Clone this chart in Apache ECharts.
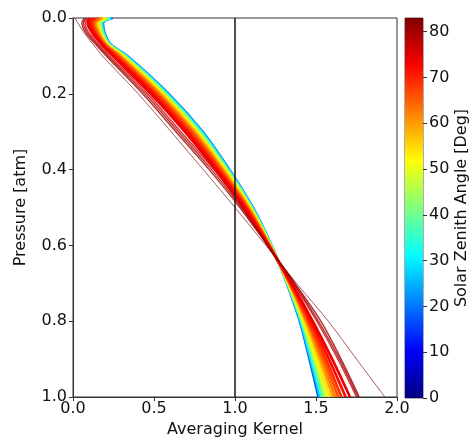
<!DOCTYPE html>
<html>
<head>
<meta charset="utf-8">
<script src="https://cdn.jsdelivr.net/npm/echarts@6/dist/echarts.min.js"></script>
<style>html,body{margin:0;padding:0;background:#fff}#c{width:475px;height:443px}</style>
</head>
<body>
<div id="c"></div>
<script>
// Pressure levels [atm]
const pressure = [0, 0.013, 0.04, 0.07, 0.1, 0.2, 0.3, 0.4, 0.5, 0.6, 0.7, 0.8, 0.9, 1.0];
// Solar zenith angles of each kernel [deg]
const sza = [18, 28, 36, 43, 49, 54, 59, 63, 66, 69, 72, 74, 77, 79, 81, 83];
// Averaging kernel values (one per pressure level)
const k18 = [0.245, 0.185, 0.195, 0.232, 0.335, 0.590, 0.800, 0.965, 1.110, 1.225, 1.320, 1.400, 1.460, 1.515];
const k28 = [0.238, 0.180, 0.191, 0.229, 0.331, 0.585, 0.795, 0.961, 1.107, 1.224, 1.322, 1.404, 1.467, 1.525];
const k36 = [0.229, 0.175, 0.187, 0.225, 0.325, 0.578, 0.788, 0.956, 1.104, 1.223, 1.323, 1.409, 1.475, 1.536];
const k43 = [0.219, 0.168, 0.182, 0.221, 0.319, 0.570, 0.780, 0.950, 1.100, 1.221, 1.325, 1.414, 1.485, 1.550];
const k49 = [0.207, 0.160, 0.176, 0.216, 0.312, 0.561, 0.771, 0.943, 1.096, 1.220, 1.328, 1.421, 1.496, 1.566];
const k54 = [0.194, 0.152, 0.169, 0.211, 0.304, 0.552, 0.762, 0.935, 1.091, 1.218, 1.331, 1.428, 1.509, 1.583];
const k59 = [0.180, 0.142, 0.161, 0.206, 0.295, 0.541, 0.751, 0.927, 1.085, 1.216, 1.334, 1.436, 1.523, 1.603];
const k63 = [0.167, 0.134, 0.155, 0.201, 0.286, 0.531, 0.741, 0.919, 1.080, 1.214, 1.336, 1.443, 1.536, 1.620];
const k66 = [0.154, 0.125, 0.148, 0.196, 0.278, 0.521, 0.731, 0.911, 1.075, 1.212, 1.339, 1.450, 1.548, 1.638];
const k69 = [0.139, 0.116, 0.140, 0.191, 0.269, 0.510, 0.720, 0.903, 1.070, 1.210, 1.342, 1.458, 1.562, 1.657];
const k72 = [0.120, 0.103, 0.131, 0.185, 0.258, 0.495, 0.705, 0.892, 1.063, 1.208, 1.346, 1.469, 1.580, 1.683];
const k74 = [0.100, 0.090, 0.120, 0.178, 0.245, 0.480, 0.690, 0.880, 1.055, 1.205, 1.350, 1.480, 1.600, 1.710];
const k77 = [0.090, 0.075, 0.100, 0.160, 0.226, 0.460, 0.665, 0.870, 1.045, 1.205, 1.360, 1.505, 1.635, 1.751];
const k79 = [0.080, 0.065, 0.090, 0.150, 0.215, 0.445, 0.650, 0.855, 1.040, 1.205, 1.365, 1.515, 1.645, 1.759];
const k81 = [0.070, 0.055, 0.080, 0.140, 0.205, 0.430, 0.635, 0.840, 1.030, 1.200, 1.370, 1.530, 1.655, 1.767];
const k83 = [0.012, 0.030, 0.070, 0.125, 0.181, 0.403, 0.605, 0.804, 1.000, 1.190, 1.380, 1.576, 1.750, 1.925];
const kernels = [k18, k28, k36, k43, k49, k54, k59, k63, k66, k69, k72, k74, k77, k79, k81, k83];
// Reference line and axis ticks
const refKernel = 1.0;
const xTicks = [0.0, 0.5, 1.0, 1.5, 2.0];
const yTicks = [0.0, 0.2, 0.4, 0.6, 0.8, 1.0];
const cbTicks = [0, 10, 20, 30, 40, 50, 60, 70, 80];
const szaMin = 0, szaMax = 83;

function jet(v) {
  const t = Math.max(0, Math.min(1, v));
  const cl = a => Math.max(0, Math.min(1, a));
  const r = cl(1.5 - Math.abs(4 * t - 3));
  const g = cl(1.5 - Math.abs(4 * t - 2));
  const b = cl(1.5 - Math.abs(4 * t - 1));
  return 'rgb(' + Math.round(r * 255) + ',' + Math.round(g * 255) + ',' + Math.round(b * 255) + ')';
}

const FONT = 'DejaVu Sans';
const series = kernels.map((k, i) => {
  const a = sza[i];
  const w = a >= 83 ? 1 : (a >= 77 ? 1.4 : 2.6);
  const op = a >= 83 ? 0.65 : (a >= 77 ? 0.8 : 1);
  return {
    type: 'line', xAxisIndex: 0, yAxisIndex: 0,
    data: k.map((x, j) => [x, pressure[j]]),
    showSymbol: false, symbol: 'none', silent: true,
    smooth: 0.3,
    lineStyle: { color: jet((a - szaMin) / (szaMax - szaMin)), width: w, opacity: op },
    z: 2 + i
  };
});
series.push({
  type: 'line', xAxisIndex: 0, yAxisIndex: 0,
  data: [[refKernel, 0], [refKernel, 1]],
  showSymbol: false, symbol: 'none', silent: true,
  lineStyle: { color: '#222', width: 1.6 }, z: 30
});
series.push({
  type: 'bar', xAxisIndex: 1, yAxisIndex: 1,
  data: [szaMax], barWidth: '100%', silent: true,
  itemStyle: {
    color: new echarts.graphic.LinearGradient(0, 1, 0, 0, [
      { offset: 0, color: '#000080' },
      { offset: 0.125, color: '#0000ff' },
      { offset: 0.375, color: '#00ffff' },
      { offset: 0.625, color: '#ffff00' },
      { offset: 0.875, color: '#ff0000' },
      { offset: 1, color: '#800000' }
    ])
  }
});

const chart = echarts.init(document.getElementById('c'), null, { renderer: 'canvas' });
chart.setOption({
  animation: false,
  backgroundColor: '#fff',
  textStyle: { fontFamily: FONT },
  grid: [
    { left: 73, right: 78, top: 18, bottom: 45, show: true, borderColor: '#333', borderWidth: 1, backgroundColor: 'transparent' },
    { left: 405, width: 18, top: 18, bottom: 45, show: true, borderColor: '#333', borderWidth: 0.8 }
  ],
  xAxis: [
    {
      type: 'value', gridIndex: 0, min: xTicks[0], max: xTicks[xTicks.length - 1], interval: 0.5,
      name: 'Averaging Kernel', nameLocation: 'middle', nameGap: 25,
      nameTextStyle: { fontSize: 16, color: '#111', fontFamily: FONT },
      axisLine: { show: true, onZero: false, lineStyle: { color: '#333' } },
      axisTick: { show: true, length: 4, lineStyle: { color: '#333' } },
      axisLabel: { fontSize: 16, color: '#111', margin: 4, fontFamily: FONT, formatter: v => v.toFixed(1) },
      splitLine: { show: false }
    },
    {
      type: 'category', gridIndex: 1, data: ['cb'], show: false
    }
  ],
  yAxis: [
    {
      type: 'value', gridIndex: 0, inverse: true, min: yTicks[0], max: yTicks[yTicks.length - 1], interval: 0.2,
      name: 'Pressure [atm]', nameLocation: 'middle', nameGap: 44, nameRotate: 90,
      nameTextStyle: { fontSize: 16, color: '#111', fontFamily: FONT },
      axisLine: { show: true, onZero: false, lineStyle: { color: '#333' } },
      axisTick: { show: true, length: 4, lineStyle: { color: '#333' } },
      axisLabel: { fontSize: 16, color: '#111', margin: 6, fontFamily: FONT, formatter: v => v.toFixed(1) },
      splitLine: { show: false }
    },
    {
      type: 'value', gridIndex: 1, position: 'right', min: szaMin, max: szaMax, interval: 10,
      name: 'Solar Zenith Angle [Deg]', nameLocation: 'middle', nameGap: 31, nameRotate: 90,
      nameTextStyle: { fontSize: 16, color: '#111', fontFamily: FONT },
      axisLine: { show: false },
      axisTick: { show: true, length: 4, lineStyle: { color: '#333' } },
      axisLabel: { fontSize: 16, color: '#111', margin: 6, fontFamily: FONT, showMaxLabel: false,
        formatter: v => (cbTicks.indexOf(v) >= 0 ? String(v) : '') },
      splitLine: { show: false }
    }
  ],
  series: series
});
</script>
</body>
</html>
